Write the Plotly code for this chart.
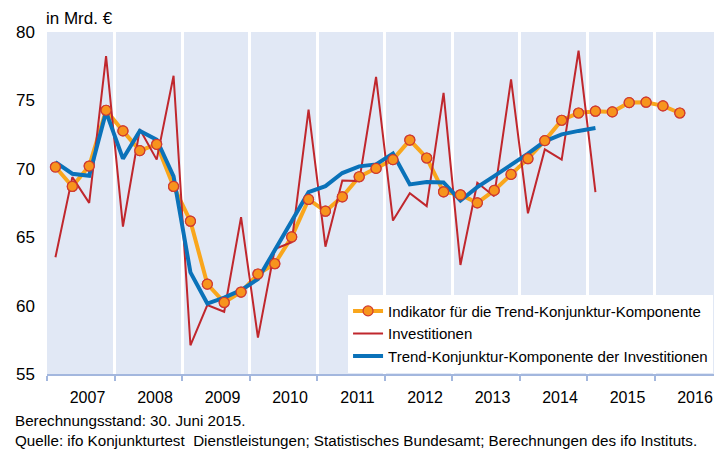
import plotly.graph_objects as go

years = list(range(2007, 2017))
year_labels = [str(y) for y in years]

indikator = [70.13, 68.71, 70.20, 74.28, 72.77, 71.33, 71.79, 68.71,
             66.17, 61.57, 60.23, 60.99, 62.31, 63.06, 65.02, 67.76,
             66.90, 67.95, 69.42, 70.03, 70.67, 72.10, 70.79, 68.32,
             68.10, 67.51, 68.42, 69.59, 70.74, 72.06, 73.55, 74.08,
             74.21, 74.16, 74.84, 74.87, 74.60, 74.08]
investitionen = [63.53, 69.39, 67.51, 78.24, 65.78, 72.89, 70.67, 76.80,
                 57.10, 60.04, 59.55, 66.46, 57.66, 64.14, 64.63, 74.33,
                 64.31, 69.15, 69.10, 76.72, 66.22, 68.22, 67.27, 75.55,
                 62.97, 68.98, 68.00, 76.53, 66.75, 71.42, 70.67, 78.63,
                 68.29]
trend = [70.49, 69.64, 69.49, 74.16, 70.74, 72.77, 72.13, 69.44,
         62.43, 60.15, 60.59, 61.13, 61.94, 64.02, 66.22, 68.29,
         68.73, 69.69, 70.18, 70.32, 71.11, 68.86, 69.03, 69.00,
         67.68, 68.66, 69.47, 70.25, 71.11, 72.01, 72.52, 72.77,
         72.98]

def qx(n):
    return [2007 + (i + 0.5) / 4 for i in range(n)]

ORANGE = "#F9A61C"
MARKER_FILL = "#F7941D"
MARKER_LINE = "#CF3A32"
RED = "#C0272D"
BLUE = "#0A72B9"
BAND = "#E1E8F5"
AXIS = "#A3B7DE"
FONT = "Liberation Sans, Arial, sans-serif"

fig = go.Figure()
fig.add_trace(go.Scatter(
    x=qx(len(indikator)), y=indikator, mode="lines+markers",
    name="Indikator für die Trend-Konjunktur-Komponente",
    line=dict(color=ORANGE, width=4),
    marker=dict(size=10, color=MARKER_FILL, line=dict(color=MARKER_LINE, width=1.2)),
))
fig.add_trace(go.Scatter(
    x=qx(len(investitionen)), y=investitionen, mode="lines",
    name="Investitionen", line=dict(color=RED, width=2),
))
fig.add_trace(go.Scatter(
    x=qx(len(trend)), y=trend, mode="lines",
    name="Trend-Konjunktur-Komponente der Investitionen",
    line=dict(color=BLUE, width=4),
))
fig.add_trace(go.Scatter(
    x=qx(len(indikator)), y=indikator, mode="markers", showlegend=False,
    marker=dict(size=10, color=MARKER_FILL, line=dict(color=MARKER_LINE, width=1.2)),
    hoverinfo="skip",
))

fig.update_layout(
    width=722, height=450,
    margin=dict(l=37, r=8, t=24, b=84),
    paper_bgcolor="white", plot_bgcolor=BAND,
    font=dict(family=FONT, color="black", size=16),
    legend=dict(
        x=0.446, y=0.004, xanchor="left", yanchor="bottom",
        bgcolor="white", font=dict(size=15, family=FONT),
        borderwidth=0, tracegroupgap=0,
    ),
    xaxis=dict(
        range=[2007, 2017], showgrid=False, zeroline=False,
        tickvals=[y + 0.6 for y in years], ticktext=year_labels,
        ticks="", ticklabelstandoff=8,
        showline=True, linecolor=AXIS, linewidth=1.5,
        tickfont=dict(size=16),
        minor=dict(tickvals=list(range(2007, 2018)), ticks="outside", ticklen=5,
                   tickcolor=AXIS, tickwidth=1.5, showgrid=True,
                   gridcolor="white", gridwidth=3),
    ),
    yaxis=dict(
        range=[55, 80], tickvals=[55, 60, 65, 70, 75, 80],
        showgrid=False, zeroline=False, showline=False, ticks="",
        ticklabelstandoff=11, tickfont=dict(size=17),
    ),
    annotations=[
        dict(text="in Mrd. €", xref="paper", yref="paper", x=-0.005, y=1.04,
             xanchor="left", yanchor="middle", showarrow=False, font=dict(size=17)),
        dict(text="Berechnungsstand: 30. Juni 2015.", xref="paper", yref="paper",
             x=-0.05, y=-0.137, xanchor="left", yanchor="middle", showarrow=False,
             font=dict(size=15.2)),
        dict(text="Quelle: ifo Konjunkturtest  Dienstleistungen; Statistisches Bundesamt; Berechnungen des ifo Instituts.",
             xref="paper", yref="paper", x=-0.05, y=-0.193, xanchor="left",
             yanchor="middle", showarrow=False, font=dict(size=15.2)),
    ],
)

fig.write_html("out.html")
